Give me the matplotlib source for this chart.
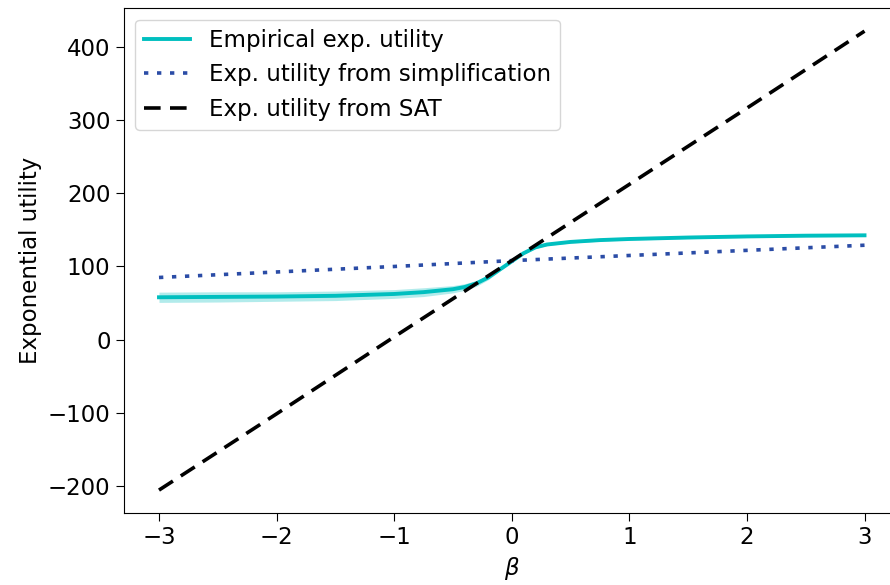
import numpy as np
import matplotlib
matplotlib.use("Agg")
import matplotlib.pyplot as plt

# empirical expected utility
beta_emp = [-3.0, -2.5, -2.0, -1.5, -1.0, -0.75, -0.5, -0.4, -0.3, -0.2, -0.1,
            0.0, 0.1, 0.2, 0.3, 0.5, 0.75, 1.0, 1.5, 2.0, 2.5, 3.0]
emp_mean = [58, 58.5, 59, 60, 62.5, 65, 69, 72, 77, 85, 96,
            107, 118, 126, 130, 133.5, 136, 137.5, 139.5, 141, 142, 142.5]
emp_err = [7, 7, 6.5, 6.5, 6, 6, 5, 4.5, 4, 3, 2,
           1.5, 1.5, 1.5, 1.5, 1.5, 1.5, 1.5, 1.5, 1.5, 1.5, 1.5]

# the two approximations
beta_lin = [-3, -2, -1, 0, 1, 2, 3]
simp = [85, 92.5, 100, 108, 115, 122, 129]
sat = [-205, -101, 4, 108, 212, 316, 421]

lo = [m - e for m, e in zip(emp_mean, emp_err)]
hi = [m + e for m, e in zip(emp_mean, emp_err)]

fs = 16.5
fig = plt.figure(figsize=(8.9, 5.85), dpi=100)
ax = fig.add_axes([0.139, 0.123, 0.872, 0.863])

ax.fill_between(beta_emp, lo, hi, color='c', alpha=0.3, linewidth=0)
ax.plot(beta_emp, emp_mean, color='c', lw=2.8, label='Empirical exp. utility')
ax.plot(beta_lin, simp, color='#2b4ca6', lw=2.6, dashes=(1.2, 2.4),
        label='Exp. utility from simplification')
ax.plot(beta_lin, sat, color='black', lw=2.6, dashes=(4.6, 2.6), label='Exp. utility from SAT')

ax.set_xlim(-3.3, 3.3)
ax.set_ylim(-236.3, 452.3)
ax.set_xticks([-3, -2, -1, 0, 1, 2, 3])
ax.set_yticks([-200, -100, 0, 100, 200, 300, 400])
ax.tick_params(labelsize=fs, length=6)
ax.set_xlabel(r'$\beta$', fontsize=fs)
ax.set_ylabel('Exponential utility', fontsize=fs)
ax.legend(loc='upper left', fontsize=fs, borderaxespad=0.5)

plt.savefig('out.png', dpi=100)
